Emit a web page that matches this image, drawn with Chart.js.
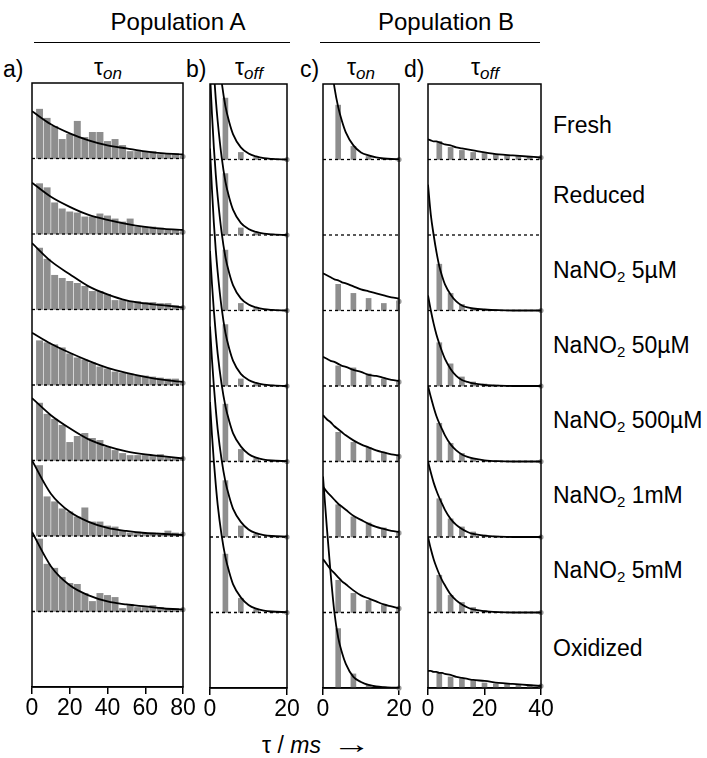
<!DOCTYPE html>
<html>
<head>
<meta charset="utf-8">
<script src="https://cdn.jsdelivr.net/npm/chart.js@4.4.1/dist/chart.umd.min.js"></script>
<style>
  body { margin: 0; background: #fff; width: 707px; height: 758px; position: relative; overflow: hidden;
         font-family: "Liberation Sans", Arial, sans-serif; color: #000; }
  canvas { position: absolute; }
  .t { position: absolute; white-space: nowrap; font-size: 23px; line-height: 26px; }
  .c { text-align: center; }
  .rule { position: absolute; border-top: 1.5px solid #000; height: 0; }
  sub { font-size: 15px; vertical-align: -4px; line-height: 0; }
  .tau sub { font-style: italic; font-size: 17px; }
  .arrow { display: inline-block; font-size: 26px; transform: scaleX(1.5); margin-left: 18px; }
</style>
</head>
<body>
<div class="t c" style="left:50px;top:9px;width:256px;font-size:24px;">Population A</div>
<div class="rule" style="left:34px;top:42px;width:256px;"></div>
<div class="t c" style="left:336px;top:9px;width:220px;font-size:24px;">Population B</div>
<div class="rule" style="left:320px;top:42px;width:220px;"></div>

<div class="t" style="left:3px;top:56px;">a)</div>
<div class="t c tau" style="left:58px;top:54px;width:100px;">τ<sub>on</sub></div>
<div class="t" style="left:186px;top:56px;">b)</div>
<div class="t c tau" style="left:199px;top:54px;width:100px;">τ<sub>off</sub></div>
<div class="t" style="left:300px;top:56px;">c)</div>
<div class="t c tau" style="left:311px;top:54px;width:100px;">τ<sub>on</sub></div>
<div class="t" style="left:404px;top:56px;">d)</div>
<div class="t c tau" style="left:435px;top:54px;width:100px;">τ<sub>off</sub></div>

<div id="labels"></div>
<div class="t" style="left:262px;top:731px;">τ / <i>ms</i><span class="arrow">→</span></div>

<canvas id="pa" width="179" height="644" style="left:18px;top:79px;"></canvas>
<canvas id="pb" width="105" height="644" style="left:196px;top:80px;"></canvas>
<canvas id="pc" width="104" height="644" style="left:309px;top:80px;"></canvas>
<canvas id="pd" width="141" height="644" style="left:414px;top:80px;"></canvas>

<script>
// row names, top to bottom
const rowNames = ['Fresh', 'Reduced', 'NaNO<sub>2</sub> 5µM', 'NaNO<sub>2</sub> 50µM', 'NaNO<sub>2</sub> 500µM',
                  'NaNO<sub>2</sub> 1mM', 'NaNO<sub>2</sub> 5mM', 'Oxidized'];
const labelY = [125, 195, 270, 345, 420, 495, 570, 648];
const ROW = 75;   // height of one row in y units

// ---- panel a: tau_on, population A (bins 4..80) ----
const binsA = [4, 8, 12, 16, 20, 24, 28, 32, 36, 40, 44, 48, 52, 56, 60, 64, 68, 72, 76, 80];
const barsA = [
  [49, 40, 32, 19, 24, 37, 21, 26, 26, 17, 19, 13, 7, 7, 7, 7, 4, 4, 5, 2],
  [50, 46, 31, 25, 22, 21, 17, 17, 20, 18, 15, 12, 15, 7, 7, 7, 6, 4, 4, 2],
  [61, 50, 34, 31, 28, 26, 23, 18, 18, 15, 9, 9, 8, 8, 7, 7, 6, 6, 4, 2],
  [44, 42, 40, 37, 31, 27, 25, 22, 18, 16, 13, 12, 11, 9, 9, 8, 7, 6, 6, 2],
  [57, 46, 41, 35, 18, 24, 27, 22, 20, 13, 10, 7, 5, 5, 5, 4, 6, 3, 3, 2],
  [70, 39, 34, 27, 24, 19, 28, 14, 14, 10, 9, 5, 3, 4, 3, 3, 3, 5, 3, 2],
  [72, 47, 43, 34, 28, 27, 18, 10, 18, 16, 14, 3, 7, 4, 4, 6, 4, 3, 3, 2],
  null
];
const fitXA = [0, 10, 20, 30, 40, 50, 60, 70, 80];
const fitA = [
  [47, 34, 25, 18, 13, 10, 7, 5, 4],
  [51, 37, 27, 19, 14, 10, 7, 5, 4],
  [66, 48, 35, 23, 15, 9, 6, 4, 2],
  [52, 41, 32, 24, 17, 12, 8, 5, 3],
  [62, 45, 32, 21, 14, 9, 6, 4, 2],
  [75, 42, 24, 14, 8, 5, 3, 2, 1],
  [79, 45, 26, 16, 10, 7, 5, 3, 2],
  null
];

// ---- panel b: tau_off, population A (bins 4..20) ----
const binsB = [4, 8, 12, 16, 20];
const barsB = [
  [61, 7, 2, 1, 0],
  [61, 7, 2, 1, 0],
  [60, 7, 2, 1, 0],
  [61, 7, 2, 1, 0],
  [57, 12, 3, 1, 0],
  [56, 11, 3, 1, 0],
  [58, 14, 3, 1, 0],
  null
];
const fitXB = [0, 0.5, 1, 1.5, 2, 3, 4, 5, 6, 8, 10, 12, 14, 16, 20];
const fitB = [
  [236, 196, 162, 135, 113, 78, 53, 37, 25, 12, 6, 3, 1.3, 0.6, 0],
  [236, 196, 162, 135, 113, 78, 53, 37, 25, 12, 6, 3, 1.3, 0.6, 0],
  [236, 196, 162, 135, 113, 78, 53, 37, 25, 12, 6, 3, 1.3, 0.6, 0],
  [236, 196, 162, 135, 113, 78, 53, 37, 25, 12, 6, 3, 1.3, 0.6, 0],
  [209, 177, 150, 127, 107, 77, 55, 40, 28, 15, 7.5, 3.8, 1.9, 1, 0.3],
  [209, 177, 150, 127, 107, 77, 55, 40, 28, 15, 7.5, 3.8, 1.9, 1, 0.3],
  [209, 177, 150, 127, 107, 77, 55, 40, 28, 15, 7.5, 3.8, 1.9, 1, 0.3],
  null
];

// ---- panel c: tau_on, population B (bins 4..20) ----
const binsC = [4, 8, 12, 16, 20];
const barsC = [
  [54, 13, 3, 1, 0],
  [],
  [26, 17, 12, 7, 9],
  [20, 18, 12, 7, 4],
  [29, 19, 14, 9, 5],
  [32, 20, 14, 9, 4],
  [32, 19, 12, 7, 4],
  [59, 14, 3, 1, 0]
];
const fitXC = [0, 1, 2, 3, 4, 5, 6, 8, 10, 12, 14, 16, 18, 20];
const fitC = [
  [193, 139, 100, 72, 52, 38, 27, 14, 7, 4, 2, 1, 0.5, 0.3],
  null,
  [37, 35, 33, 31, 30, 28, 27, 24, 21, 19, 17, 15, 13, 12],
  [29, 27, 25, 24, 22, 20, 19, 16, 14, 11, 10, 8, 6, 5],
  [46, 42, 39, 35, 32, 29, 26, 21, 17, 14, 11, 9, 7, 6],
  [50, 45, 41, 37, 33, 30, 27, 21, 17, 13, 10, 8, 6, 5],
  [53, 48, 43, 39, 35, 31, 28, 22, 17, 14, 11, 8, 6, 4],
  [210, 160, 114, 75, 50, 35, 24, 11, 6, 3, 1.5, 0.8, 0.4, 0.2]
];

// ---- panel d: tau_off, population B (bins 4..40) ----
const binsD = [4, 8, 12, 16, 20, 24, 28, 32, 36, 40];
const barsD = [
  [18, 12, 9, 7, 6, 5, 4, 4, 3, 2],
  [],
  [46, 17, 6, 2, 1, 0.5, 0, 0, 0, 0],
  [43, 22, 9, 4, 2, 1, 0, 0, 0, 0],
  [38, 18, 8, 3, 1, 0.5, 0, 0, 0, 0],
  [38, 18, 10, 5, 2, 1, 0, 0, 0, 0],
  [37, 17, 10, 5, 2, 1, 0, 0, 0, 0],
  [15, 11, 9, 7, 5, 4, 4, 3, 3, 2]
];
const fitXD = [0, 1, 2, 3, 4, 5, 6, 8, 10, 12, 14, 16, 20, 25, 30, 35, 40];
const fitD = [
  [20, 19, 18, 18, 17, 16, 15, 14, 12, 11, 10, 9, 7, 5, 4, 3, 2],
  null,
  [125, 95, 75, 58, 44, 34, 26, 16, 9, 5, 3, 2, 1, 0.3, 0, 0, 0],
  [90, 75, 62, 51, 42, 34, 27, 17, 10, 6, 4, 2.5, 1, 0.3, 0, 0, 0],
  [75, 64, 54, 45, 38, 32, 26, 17, 11, 7, 4.5, 3, 1.2, 0.3, 0, 0, 0],
  [75, 64, 54, 46, 39, 33, 27, 18, 12, 8, 5, 3, 1.3, 0.4, 0, 0, 0],
  [75, 63, 53, 45, 38, 32, 27, 18, 12, 8, 5, 3, 1.3, 0.4, 0, 0, 0],
  [17, 17, 16, 16, 15, 15, 14, 13, 11, 10, 9, 8, 7, 5, 4, 3, 2]
];

// row labels on the right
const labelBox = document.getElementById('labels');
rowNames.forEach((name, i) => {
  const d = document.createElement('div');
  d.className = 't';
  d.style.left = '553px';
  d.style.top = (labelY[i] - 13) + 'px';
  d.innerHTML = name;
  labelBox.appendChild(d);
});

const GREY = '#8e8e8e';

// frame around the plot area
const framePlugin = {
  id: 'frame',
  afterDatasetsDraw(chart) {
    const a = chart.chartArea;
    const ctx = chart.ctx;
    ctx.save();
    ctx.strokeStyle = '#000';
    ctx.lineWidth = 1.5;
    ctx.strokeRect(a.left, a.top, a.right - a.left, a.bottom - a.top);
    ctx.restore();
  }
};

function makePanel(id, bins, bars, fitX, fits, xmax, thickness, baselineRows) {
  const datasets = [];
  for (let i = 0; i < 8; i++) {
    const base = (7 - i) * ROW;
    if (bars[i] && bars[i].length) {
      datasets.push({
        type: 'bar',
        data: bins.map((x, k) => ({ x: x, y: [base, base + bars[i][k]] })),
        backgroundColor: GREY,
        barThickness: thickness,
        grouped: false,
        order: 3
      });
      const last = bars[i][bars[i].length - 1];
      datasets.push({
        type: 'scatter',
        data: [{ x: xmax, y: base + last }],
        pointRadius: 2.6,
        pointBackgroundColor: '#9a9a9a',
        pointBorderWidth: 0,
        clip: false,
        order: 4
      });
    }
    if (fits[i]) {
      datasets.push({
        type: 'line',
        data: fitX.map((x, k) => ({ x: x, y: base + fits[i][k] })),
        borderColor: '#000',
        borderWidth: 1.8,
        pointRadius: 0,
        cubicInterpolationMode: 'monotone',
        fill: false,
        order: 1
      });
    }
    if (baselineRows.includes(i)) {
      datasets.push({
        type: 'line',
        data: [{ x: 0, y: base }, { x: xmax, y: base }],
        borderColor: '#000',
        borderWidth: 1.3,
        borderDash: [3, 3],
        pointRadius: 0,
        order: 0
      });
    }
  }

  return new Chart(document.getElementById(id), {
    type: 'bar',
    data: { datasets: datasets },
    options: {
      responsive: false,
      animation: false,
      layout: { padding: { left: 14, right: 14, top: 4, bottom: 0 } },
      plugins: { legend: { display: false }, tooltip: { enabled: false } },
      scales: {
        x: {
          type: 'linear',
          min: 0,
          max: xmax,
          offset: false,
          afterFit: s => { s.height = 36; },
          ticks: {
            stepSize: 20,
            color: '#000',
            padding: 1,
            maxRotation: 0,
            font: { family: '"Liberation Sans", Arial, sans-serif', size: 23 }
          },
          grid: { offset: false, drawOnChartArea: false, color: '#000', lineWidth: 1.5, tickLength: 7 },
          border: { color: '#000', width: 1.5 }
        },
        y: { display: false, min: 0, max: 8 * ROW }
      }
    },
    plugins: [framePlugin]
  });
}

makePanel('pa', binsA, barsA, fitXA, fitA, 80, 6.3, [0, 1, 2, 3, 4, 5, 6]);
makePanel('pb', binsB, barsB, fitXB, fitB, 20, 5, [0, 1, 2, 3, 4, 5, 6]);
makePanel('pc', binsC, barsC, fitXC, fitC, 20, 5, [0, 1, 2, 3, 4, 5, 6]);
makePanel('pd', binsD, barsD, fitXD, fitD, 40, 5, [0, 1, 2, 3, 4, 5, 6]);
</script>
</body>
</html>
